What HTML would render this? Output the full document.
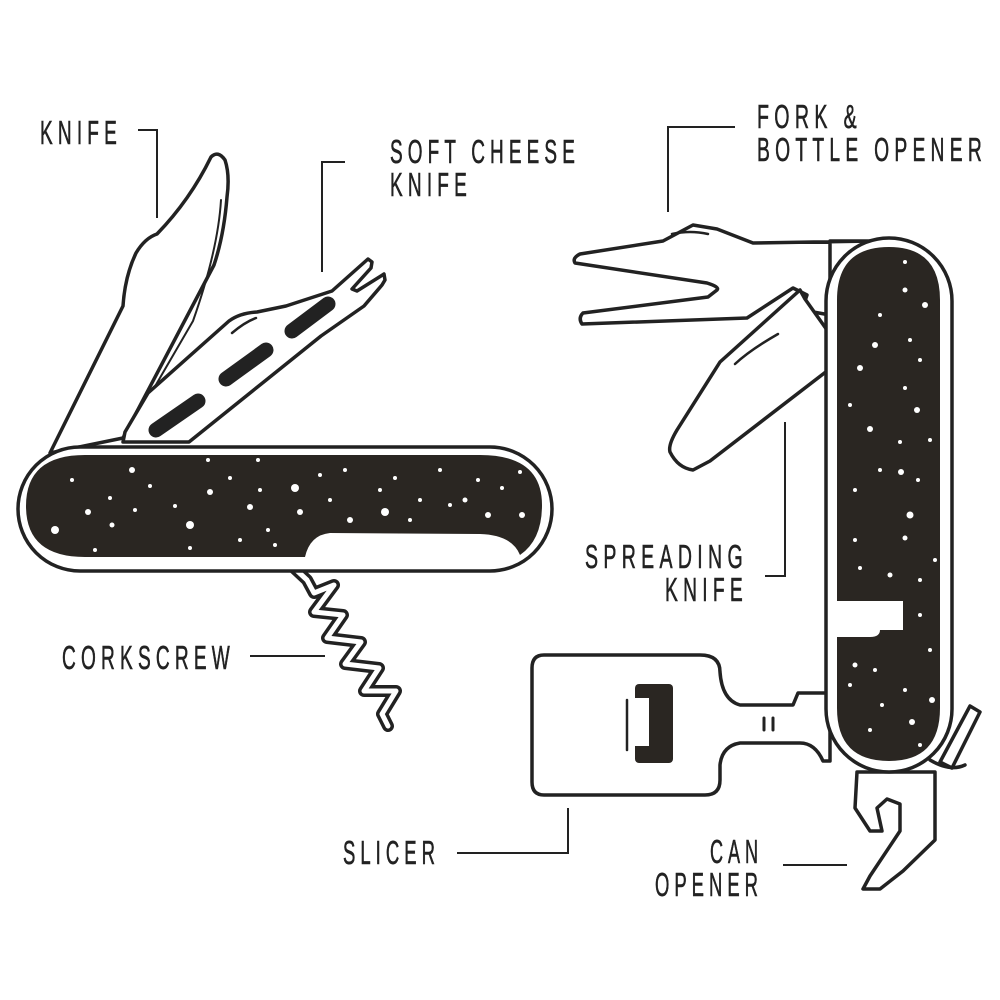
<!DOCTYPE html>
<html><head><meta charset="utf-8"><style>html,body{margin:0;padding:0;background:#fff}svg{display:block}</style></head>
<body>
<svg width="1000" height="1000" viewBox="0 0 1000 1000" xmlns="http://www.w3.org/2000/svg">
<g font-family="'Liberation Sans',sans-serif" font-size="33" fill="#222" letter-spacing="9" stroke="#222" stroke-width="0.6">
<text x="40" y="144" textLength="82" lengthAdjust="spacingAndGlyphs">KNIFE</text>
<text x="390" y="163" textLength="190" lengthAdjust="spacingAndGlyphs">SOFT CHEESE</text>
<text x="390" y="196" textLength="82" lengthAdjust="spacingAndGlyphs">KNIFE</text>
<text x="757" y="128" textLength="105" lengthAdjust="spacingAndGlyphs">FORK &amp;</text>
<text x="757" y="161" textLength="230" lengthAdjust="spacingAndGlyphs">BOTTLE OPENER</text>
<text x="585" y="568" textLength="163" lengthAdjust="spacingAndGlyphs">SPREADING</text>
<text x="665" y="601" textLength="83" lengthAdjust="spacingAndGlyphs">KNIFE</text>
<text x="62" y="669" textLength="173" lengthAdjust="spacingAndGlyphs">CORKSCREW</text>
<text x="343" y="864" textLength="97" lengthAdjust="spacingAndGlyphs">SLICER</text>
<text x="710" y="863" textLength="53" lengthAdjust="spacingAndGlyphs">CAN</text>
<text x="655" y="896" textLength="108" lengthAdjust="spacingAndGlyphs">OPENER</text>
</g>
<g fill="none" stroke="#222" stroke-width="2">
<polyline points="138,130 157,130 157,218"/>
<polyline points="345,162 322,162 322,272"/>
<polyline points="735,127 668,127 668,212"/>
<polyline points="765,576 785,576 785,422"/>
<polyline points="250,656 325,656"/>
<polyline points="457,853 568,853 568,808"/>
<polyline points="783,865 847,865"/>
</g>
<g fill="#fff" stroke="#222" stroke-width="3.5" stroke-linejoin="round" stroke-linecap="round">
<path d="M50,453 L123,306 Q125,276 136,253 Q145,238 157,234 Q190,200 211,157 Q218,150 225,160 Q230,175 227,197 Q224,235 214,265 L123,438 Z"/>
<path d="M221,200 Q218,250 193,321 L132,426" fill="none" stroke-width="2"/>
<path d="M123,442 L125,432 L148,393 L229,321 Q240,313 257,312 L286,306 L332,291 L368,259 L372,262 L371,268 L352,289 L357,291 L384,274 L385,280 L382,285 L364,306 L321,336 L189,442 Z"/>
<path d="M232,333 Q245,322 256,318" fill="none" stroke-width="2.5"/>
<g stroke-width="15" stroke="#222"><line x1="156" y1="430" x2="198" y2="401"/><line x1="226" y1="379" x2="266" y2="350"/><line x1="292" y1="331" x2="328" y2="304"/></g>
<polyline points="292,566 307,580 314,593 334,585 314,612 343,615 327,638 361,642 345,664 379,668 364,691 396,691 382,714 388,726" fill="none" stroke-width="12"/>
<polyline points="292,566 307,580 314,593 334,585 314,612 343,615 327,638 361,642 345,664 379,668 364,691 396,691 382,714 388,726" fill="none" stroke="#fff" stroke-width="5"/>
<rect x="18" y="447" width="534" height="124" rx="62" stroke-width="3.5"/>
<path d="M85,455 L480,455 Q542,455 542,505 Q542,540 520,555 Q512,535 480,534 L330,533 Q310,535 305,557 L85,557 Q26,557 26,506 Q26,455 85,455 Z" fill="#2a2622" stroke="none"/>
<path d="M873,241 L753,243 L717,229 L693,225 L663,241 L580,254 Q572,258 575,263 L707,283 Q720,287 717,290 L708,297 L583,313 Q578,318 582,324 L747,318 L793,288 L807,295 L802,310 L830,315 L830,241 Z"/>
<path d="M672,234 Q690,230 708,234" fill="none" stroke-width="2.5"/>
<path d="M805,299 L800,290 L720,362 L677,430 Q668,445 670,452 Q678,468 693,470 L710,461 L827,371 L827,330 Z"/>
<path d="M735,364 Q750,350 778,334" fill="none" stroke-width="2.5"/>
<path d="M544,655 L700,655 Q720,655 720,672 Q722,700 740,705 L793,705 L798,693 L830,693 L830,761 L823,761 Q815,743 800,743 L740,743 Q722,746 720,765 L720,780 Q720,795 705,795 L544,795 Q532,795 532,782 L532,668 Q532,655 544,655 Z"/>
<rect x="635" y="684" width="38" height="79" rx="4" fill="#2a2622" stroke="none"/>
<rect x="633" y="698" width="16" height="48" fill="#fff" stroke="none"/>
<line x1="627" y1="700" x2="627" y2="750" stroke-width="2.5"/>
<line x1="764" y1="718" x2="764" y2="730" stroke-width="3"/><line x1="773" y1="718" x2="773" y2="730" stroke-width="3"/>
<path d="M857,772 L855,808 L870,831 L882,831 L877,808 L887,799 L900,804 L900,831 L870,876 L863,889 L880,889 L903,871 L935,840 L935,772 Z"/>
<path d="M940,762 L970,706 L980,712 L952,768 Z"/>
<path d="M930,760 Q950,772 965,765" fill="none"/>
<rect x="826" y="238" width="126" height="534" rx="63"/>
<path d="M889,247 Q940,247 940,300 L940,708 Q940,761 889,761 Q837,761 837,708 L837,637 L870,637 Q880,637 880,630 L903,630 L903,601 L837,601 L837,300 Q837,247 889,247 Z" fill="#2a2622" stroke="none"/>
</g>
<g fill="#fff">
<circle cx="55" cy="530" r="4"/><circle cx="88" cy="512" r="3"/><circle cx="72" cy="480" r="2"/><circle cx="110" cy="498" r="2"/><circle cx="132" cy="470" r="3"/><circle cx="112" cy="525" r="2.5"/><circle cx="135" cy="510" r="2"/><circle cx="150" cy="486" r="2"/><circle cx="175" cy="506" r="2"/><circle cx="190" cy="525" r="4"/><circle cx="210" cy="492" r="3"/><circle cx="230" cy="478" r="2"/><circle cx="250" cy="507" r="3"/><circle cx="260" cy="490" r="2"/><circle cx="268" cy="530" r="2"/><circle cx="295" cy="488" r="4"/><circle cx="300" cy="512" r="3"/><circle cx="320" cy="475" r="2"/><circle cx="330" cy="500" r="2"/><circle cx="345" cy="470" r="2"/><circle cx="350" cy="520" r="3"/><circle cx="380" cy="490" r="2"/><circle cx="385" cy="512" r="4"/><circle cx="395" cy="478" r="2"/><circle cx="410" cy="520" r="2"/><circle cx="420" cy="500" r="2"/><circle cx="440" cy="470" r="2"/><circle cx="450" cy="505" r="2"/><circle cx="465" cy="500" r="2.5"/><circle cx="478" cy="480" r="2"/><circle cx="488" cy="515" r="3"/><circle cx="502" cy="488" r="2"/><circle cx="520" cy="472" r="2"/><circle cx="522" cy="515" r="3"/><circle cx="208" cy="460" r="2"/><circle cx="258" cy="460" r="2"/><circle cx="95" cy="550" r="2"/><circle cx="190" cy="548" r="2"/><circle cx="240" cy="540" r="2"/><circle cx="275" cy="545" r="2"/>
<circle cx="905" cy="262" r="2"/><circle cx="905" cy="290" r="2.5"/><circle cx="925" cy="305" r="3"/><circle cx="880" cy="315" r="2"/><circle cx="875" cy="345" r="3"/><circle cx="910" cy="340" r="2"/><circle cx="860" cy="368" r="3"/><circle cx="905" cy="388" r="2"/><circle cx="920" cy="360" r="2"/><circle cx="917" cy="410" r="3"/><circle cx="870" cy="429" r="3"/><circle cx="850" cy="405" r="2"/><circle cx="900" cy="442" r="2"/><circle cx="930" cy="440" r="2"/><circle cx="880" cy="470" r="2"/><circle cx="901" cy="472" r="3"/><circle cx="918" cy="480" r="2"/><circle cx="855" cy="490" r="2"/><circle cx="910" cy="515" r="3.5"/><circle cx="855" cy="540" r="2"/><circle cx="905" cy="538" r="2.5"/><circle cx="935" cy="560" r="2"/><circle cx="860" cy="568" r="2"/><circle cx="890" cy="575" r="2.5"/><circle cx="920" cy="580" r="2"/><circle cx="920" cy="615" r="2"/><circle cx="930" cy="650" r="2"/><circle cx="855" cy="665" r="2.5"/><circle cx="875" cy="670" r="2"/><circle cx="850" cy="685" r="2"/><circle cx="905" cy="690" r="2"/><circle cx="932" cy="700" r="3"/><circle cx="882" cy="705" r="2"/><circle cx="912" cy="722" r="3"/><circle cx="870" cy="730" r="2"/><circle cx="920" cy="745" r="2"/>
</g>
</svg>
</body></html>
